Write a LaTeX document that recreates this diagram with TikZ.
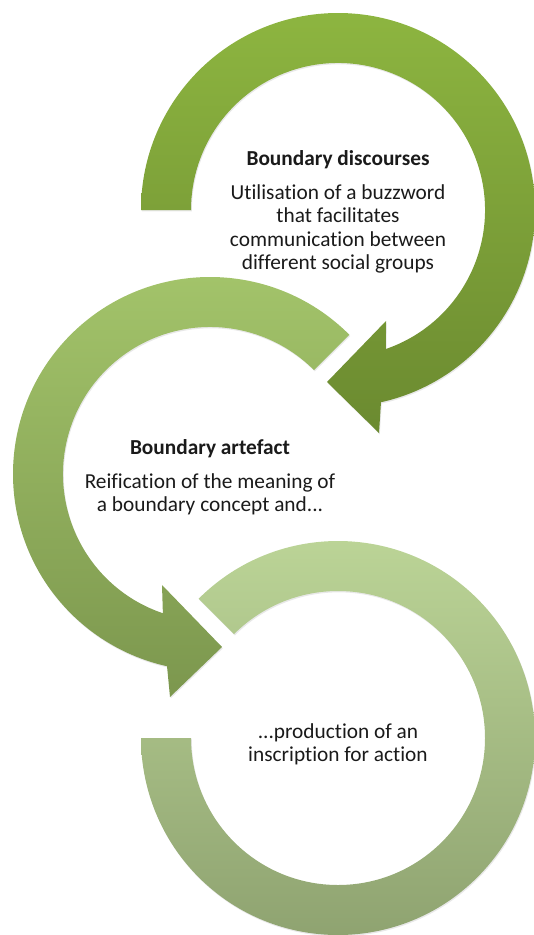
\documentclass[tikz,border=0pt]{standalone}
\usepackage{fontspec}
\setmainfont{Carlito}[Ligatures=NoCommon]
\usepackage{tikz}
\usetikzlibrary{calc, shadows}
\usepackage{xcolor}

\definecolor{ringAtop}{HTML}{8DB540}
\definecolor{ringAbot}{HTML}{6B8A30}
\definecolor{ringBtop}{HTML}{A4C56B}
\definecolor{ringBbot}{HTML}{7C974E}
\definecolor{ringCtop}{HTML}{BDD698}
\definecolor{ringCbot}{HTML}{8DA16F}
\definecolor{inktext}{HTML}{1A1A1A}

\begin{document}
\begin{tikzpicture}[
      x=0.75pt, y=0.75pt,
      ring/.style={draw=none, drop shadow={shadow xshift=0.6pt,
          shadow yshift=-1pt, opacity=0.18}},
      txt/.style={align=center, text=inktext, inner sep=0pt,
          font=\fontsize{16}{17.5}\selectfont},
    ]
    \useasboundingbox (0,0) rectangle (533,-935);

    %% --- Centres and radii ---
    \def\Ro{197}
    \def\Ri{147}
    \coordinate (cA) at (338,-210);
    \coordinate (cB) at (210,-474);
    \coordinate (cC) at (338,-738);

    %% --- Top ring (clockwise, arrow into middle ring) ---
    \shade[ring, top color=ringAtop, bottom color=ringAbot]
      ($(cA)+(180:\Ro)$) arc[start angle=180, end angle=-77.4, radius=\Ro]
      -- (379,-433) -- (327,-382) -- (386,-321)
      -- ($(cA)+(-71:\Ri)$) arc[start angle=-71, end angle=180, radius=\Ri]
      -- cycle;

    %% --- Middle ring (anticlockwise, arrow into bottom ring) ---
    \shade[ring, top color=ringBtop, bottom color=ringBbot]
      ($(cB)+(45:\Ro)$) arc[start angle=45, end angle=257.4, radius=\Ro]
      -- (170,-697) -- (222,-647) -- (162,-585)
      -- ($(cB)+(251.3:\Ri)$) arc[start angle=251.3, end angle=45, radius=\Ri]
      -- cycle;

    %% --- Bottom ring (no arrow) ---
    \shade[ring, top color=ringCtop, bottom color=ringCbot]
      ($(cC)+(135:\Ro)$) arc[start angle=135, end angle=-180, radius=\Ro]
      -- ($(cC)+(180:\Ri)$) arc[start angle=-180, end angle=135, radius=\Ri]
      -- cycle;

    %% --- Texts ---
    \node[txt] (discourses) at ($(cA)+(0,-2)$)
    {{\bfseries Boundary discourses}\\[8pt]
     Utilisation of a buzzword\\that facilitates\\
     communication between\\different social groups};
    \node[txt] (artefact) at ($(cB)+(0,-3)$)
    {{\bfseries Boundary artefact}\\[8pt]
     Reification of the meaning of\\a boundary concept and...};
    \node[txt] (inscription) at ($(cC)+(0,-6)$)
    {...production of an\\inscription for action};

  \end{tikzpicture}
\end{document}
